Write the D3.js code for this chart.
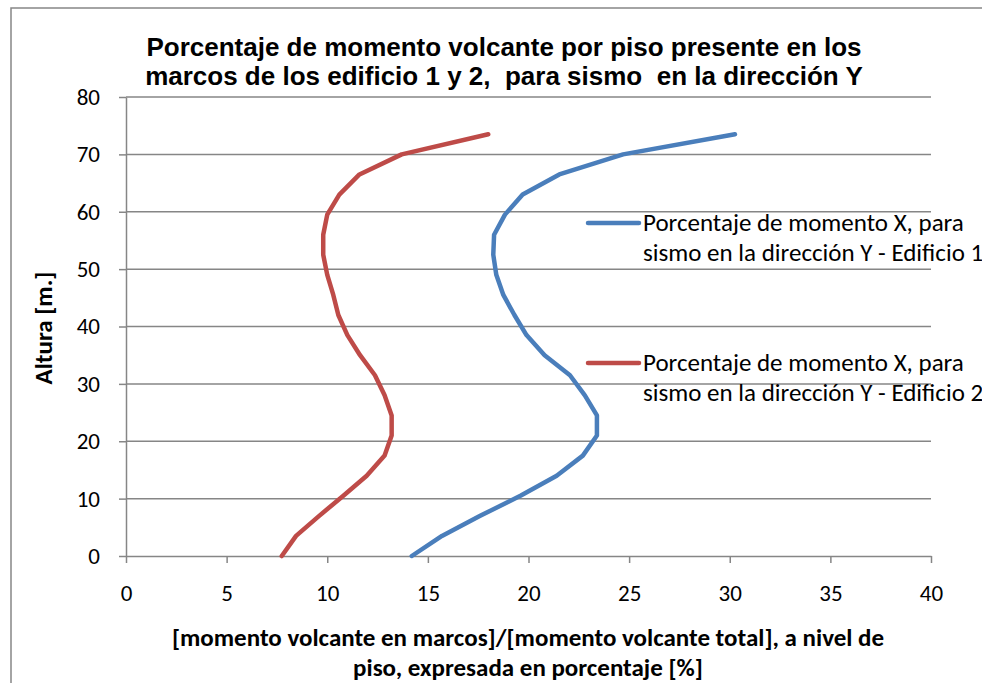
<!DOCTYPE html>
<html>
<head>
<meta charset="utf-8">
<script src="https://cdn.jsdelivr.net/npm/d3@7"></script>
<style>
body { margin: 0; background: #fff; overflow: hidden; }
svg text { fill: #000; white-space: pre; }
</style>
</head>
<body>
<svg id="chart"></svg>
<script>
// alturas de piso (m) y porcentajes
var heights = [0, 3.5, 7, 10.5, 14, 17.5, 21, 24.5, 28, 31.5, 35, 38.5, 42, 45.5, 49, 52.5, 56, 59.5, 63, 66.5, 70, 73.5];
var edificio1 = [14.2, 15.7, 17.6, 19.6, 21.4, 22.7, 23.4, 23.4, 22.8, 22.06, 20.8, 19.9, 19.3, 18.75, 18.4, 18.25, 18.29, 18.83, 19.71, 21.53, 24.7, 30.26];
var edificio2 = [7.74, 8.45, 9.6, 10.8, 11.96, 12.85, 13.2, 13.2, 12.85, 12.37, 11.63, 11.0, 10.55, 10.3, 10.0, 9.8, 9.8, 10.0, 10.6, 11.6, 13.7, 18.0];
var xTicks = [0, 5, 10, 15, 20, 25, 30, 35, 40];
var yTicks = [0, 10, 20, 30, 40, 50, 60, 70, 80];
var seriesNames = ["Porcentaje de momento X, para|sismo en la dirección Y - Edificio 1",
                   "Porcentaje de momento X, para|sismo en la dirección Y - Edificio 2"];
var seriesColors = ["#4A7EBB", "#BE4B48"];
var titleLines = ["Porcentaje de momento volcante por piso presente en los",
                  "marcos de los edificio 1 y 2,  para sismo  en la dirección Y"];
var xTitleLines = ["[momento volcante en marcos]/[momento volcante total], a nivel de",
                   "piso, expresada en porcentaje [%]"];
var yTitle = "Altura [m.]";

var initChart = function(target)
{
    var screen = {width: 982, height: 683};
    var margins = {top: 97, bottom: 127, left: 126, right: 51};
    var graph = {
        width: screen.width - margins.left - margins.right,
        height: screen.height - margins.top - margins.bottom
    };
    var labelFont = "Carlito, Calibri, Lato, sans-serif";
    var gray = "#868686";

    var svg = d3.select(target)
        .attr("width", screen.width)
        .attr("height", screen.height);

    // marco exterior (recortado a la derecha y abajo)
    svg.append("path")
        .attr("d", "M11," + screen.height + "V8H" + screen.width)
        .attr("fill", "none")
        .attr("stroke", gray)
        .attr("stroke-width", 1.5);

    var xScale = d3.scaleLinear().domain([0, 40]).range([0, graph.width]);
    var yScale = d3.scaleLinear().domain([0, 80]).range([graph.height, 0]);

    var g = svg.append("g")
        .attr("transform", "translate(" + margins.left + "," + margins.top + ")");

    // lineas de grilla horizontales
    g.append("g")
        .selectAll("line")
        .data(yTicks.slice(1))
        .enter()
        .append("line")
        .attr("x1", 0)
        .attr("x2", graph.width)
        .attr("y1", function(d) { return yScale(d); })
        .attr("y2", function(d) { return yScale(d); })
        .attr("stroke", gray)
        .attr("stroke-width", 1.5);

    var xAxis = g.append("g")
        .attr("transform", "translate(0," + graph.height + ")")
        .call(d3.axisBottom(xScale).tickValues(xTicks).tickSize(7).tickPadding(22).tickSizeOuter(0));
    var yAxis = g.append("g")
        .call(d3.axisLeft(yScale).tickValues(yTicks).tickSize(7).tickPadding(19).tickSizeOuter(0));

    [xAxis, yAxis].forEach(function(ax)
    {
        ax.selectAll("path, line").attr("stroke", gray).attr("stroke-width", 1.5);
        ax.selectAll("text")
            .attr("font-family", labelFont)
            .attr("font-size", 23)
            .attr("fill", "#000");
    });

    // series
    var line = d3.line()
        .x(function(d) { return xScale(d.x); })
        .y(function(d) { return yScale(d.h); });

    [edificio1, edificio2].forEach(function(vals, i)
    {
        var pts = vals.map(function(v, j) { return {x: v, h: heights[j]}; });
        g.append("path")
            .datum(pts)
            .attr("d", line)
            .attr("fill", "none")
            .attr("stroke", seriesColors[i])
            .attr("stroke-width", 4.5)
            .attr("stroke-linejoin", "round")
            .attr("stroke-linecap", "round");
    });

    // leyenda
    var legendY = [223, 363];
    seriesNames.forEach(function(name, i)
    {
        var lg = svg.append("g").attr("transform", "translate(588," + legendY[i] + ")");
        lg.append("line")
            .attr("x1", 0).attr("x2", 51)
            .attr("stroke", seriesColors[i])
            .attr("stroke-width", 4.5)
            .attr("stroke-linecap", "round");
        name.split("|").forEach(function(t, k)
        {
            lg.append("text")
                .attr("x", 55)
                .attr("y", k * 30)
                .attr("dy", "0.33em")
                .attr("font-family", labelFont)
                .attr("font-size", 25)
                .text(t);
        });
    });

    // titulo
    titleLines.forEach(function(t, k)
    {
        svg.append("text")
            .attr("x", 504)
            .attr("y", 56 + k * 29)
            .attr("text-anchor", "middle")
            .attr("font-family", "'Liberation Sans', Arial, sans-serif")
            .attr("font-weight", "bold")
            .attr("font-size", 26)
            .text(t);
    });

    // titulo eje x
    xTitleLines.forEach(function(t, k)
    {
        svg.append("text")
            .attr("x", 528)
            .attr("y", 646 + k * 30)
            .attr("text-anchor", "middle")
            .attr("font-family", labelFont)
            .attr("font-weight", "bold")
            .attr("font-size", 25)
            .text(t);
    });

    // titulo eje y
    svg.append("text")
        .attr("transform", "translate(52,328) rotate(-90)")
        .attr("text-anchor", "middle")
        .attr("font-family", labelFont)
        .attr("font-weight", "bold")
        .attr("font-size", 25)
        .text(yTitle);
}

initChart("#chart");
</script>
</body>
</html>
